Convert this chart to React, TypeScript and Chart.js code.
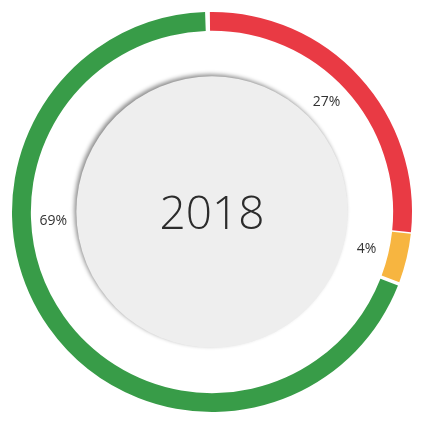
import React, { useEffect, useRef } from "react";
import { Chart, registerables } from "chart.js";

Chart.register(...registerables);

const categories = ["Red", "Orange", "Green"];
const values = [27, 4, 69];
const percentLabels = ["27%", "4%", "69%"];
const centerLabel = "2018";
const colors = ["#e93a44", "#f7b540", "#389c48"];

const FONT = "'Open Sans', 'DejaVu Sans', sans-serif";

const decorPlugin = {
  id: "decor",
  beforeDatasetsDraw(chart: any, _args: any, opts: any) {
    const meta = chart.getDatasetMeta(0);
    const arc = meta.data[0];
    if (!arc) return;
    const { x, y, innerRadius } = arc.getProps(["x", "y", "innerRadius"], true);
    const ctx = chart.ctx;
    ctx.save();
    ctx.beginPath();
    ctx.arc(x, y, innerRadius * opts.innerRatio, 0, Math.PI * 2);
    ctx.fillStyle = "#eeeeee";
    ctx.shadowColor = "rgba(0,0,0,0.45)";
    ctx.shadowBlur = 4;
    ctx.shadowOffsetX = -2;
    ctx.shadowOffsetY = -2;
    ctx.fill();
    ctx.restore();
  },
  afterDatasetsDraw(chart: any, _args: any, opts: any) {
    const meta = chart.getDatasetMeta(0);
    const ctx = chart.ctx;
    ctx.save();
    ctx.textAlign = "center";
    ctx.textBaseline = "middle";
    meta.data.forEach((el: any, i: number) => {
      const { x, y, startAngle, endAngle, innerRadius } = el.getProps(
        ["x", "y", "startAngle", "endAngle", "innerRadius"],
        true
      );
      const mid = (startAngle + endAngle) / 2 + ((opts.angleShift[i] || 0) * Math.PI) / 180;
      const r = innerRadius * opts.labelRatio;
      ctx.font = `14px ${FONT}`;
      ctx.fillStyle = "#333333";
      ctx.fillText(percentLabels[i], x + Math.cos(mid) * r, y + Math.sin(mid) * r);
    });
    const a0 = meta.data[0];
    if (a0) {
      const { x, y } = a0.getProps(["x", "y"], true);
      ctx.font = `300 46px ${FONT}`;
      ctx.fillStyle = "#2b2b2b";
      ctx.fillText(centerLabel, x, y + 4);
    }
    ctx.restore();
  },
};

export default function App() {
  const ref = useRef<HTMLCanvasElement>(null);
  useEffect(() => {
    document.body.style.margin = "0";
    const chart = new Chart(ref.current!, {
      type: "doughnut",
      data: {
        labels: categories,
        datasets: [
          {
            data: values,
            backgroundColor: colors,
            borderWidth: 0,
            spacing: 3,
          },
        ],
      },
      options: {
        responsive: false,
        animation: false,
        cutout: "90.5%",
        rotation: -1,
        layout: { padding: 12 },
        plugins: {
          legend: { display: false },
          tooltip: { enabled: false },
          decor: { innerRatio: 0.755, labelRatio: 0.885, angleShift: [-1.5, 0, 32] },
        } as any,
      },
      plugins: [decorPlugin],
    });
    return () => chart.destroy();
  }, []);
  return (
    <div style={{ width: 426, height: 424 }}>
      <canvas ref={ref} width={424} height={424} style={{ display: "block" }} />
    </div>
  );
}
